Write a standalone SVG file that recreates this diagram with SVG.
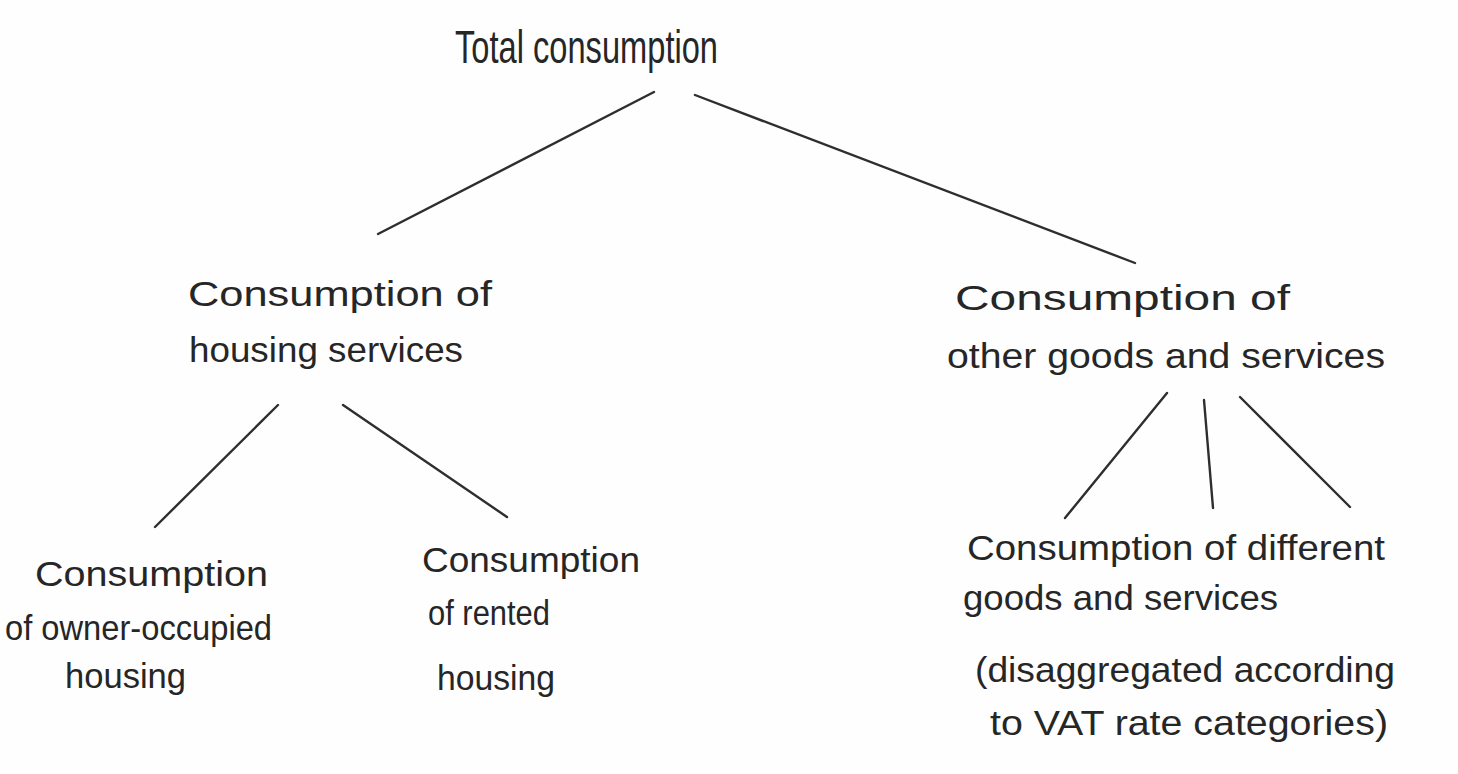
<svg xmlns="http://www.w3.org/2000/svg" width="1458" height="774" viewBox="0 0 1458 774">
<style>
  text { font-family: "Liberation Sans", "DejaVu Sans", sans-serif; fill: #262626; font-size: 35px; }
  .t { font-size: 46px; }
  .c line { stroke: #2e2e2e; stroke-width: 2.4; stroke-linecap: round; }
</style>
<rect width="1458" height="774" fill="#fefefe"/>
<g id="connectors" class="c">
  <line x1="654" y1="92" x2="378" y2="234"/>
  <line x1="695" y1="95" x2="1135" y2="263"/>
  <line x1="278" y1="405" x2="155" y2="527"/>
  <line x1="343" y1="405" x2="507" y2="517"/>
  <line x1="1167" y1="393" x2="1065" y2="518"/>
  <line x1="1204" y1="400" x2="1213" y2="508"/>
  <line x1="1240" y1="397" x2="1350" y2="507"/>
</g>
<g id="total">
  <text class="t" x="455" y="63" textLength="263" lengthAdjust="spacingAndGlyphs">Total consumption</text>
</g>
<g id="housing">
  <text x="188" y="306" textLength="304" lengthAdjust="spacingAndGlyphs">Consumption of</text>
  <text x="189" y="362" textLength="274" lengthAdjust="spacingAndGlyphs">housing services</text>
</g>
<g id="other">
  <text x="955" y="310" textLength="335" lengthAdjust="spacingAndGlyphs">Consumption of</text>
  <text x="947" y="368" textLength="438" lengthAdjust="spacingAndGlyphs">other goods and services</text>
</g>
<g id="owner">
  <text x="35" y="586" textLength="233" lengthAdjust="spacingAndGlyphs">Consumption</text>
  <text x="5" y="640" textLength="267" lengthAdjust="spacingAndGlyphs">of owner-occupied</text>
  <text x="65" y="688" textLength="121" lengthAdjust="spacingAndGlyphs">housing</text>
</g>
<g id="rented">
  <text x="422" y="572" textLength="218" lengthAdjust="spacingAndGlyphs">Consumption</text>
  <text x="428" y="625" textLength="122" lengthAdjust="spacingAndGlyphs">of rented</text>
  <text x="437" y="690" textLength="118" lengthAdjust="spacingAndGlyphs">housing</text>
</g>
<g id="different">
  <text x="967" y="560" textLength="418" lengthAdjust="spacingAndGlyphs">Consumption of different</text>
  <text x="963" y="610" textLength="315" lengthAdjust="spacingAndGlyphs">goods and services</text>
  <text x="975" y="682" textLength="420" lengthAdjust="spacingAndGlyphs">(disaggregated according</text>
  <text x="990" y="735" textLength="398" lengthAdjust="spacingAndGlyphs">to VAT rate categories)</text>
</g>
</svg>
